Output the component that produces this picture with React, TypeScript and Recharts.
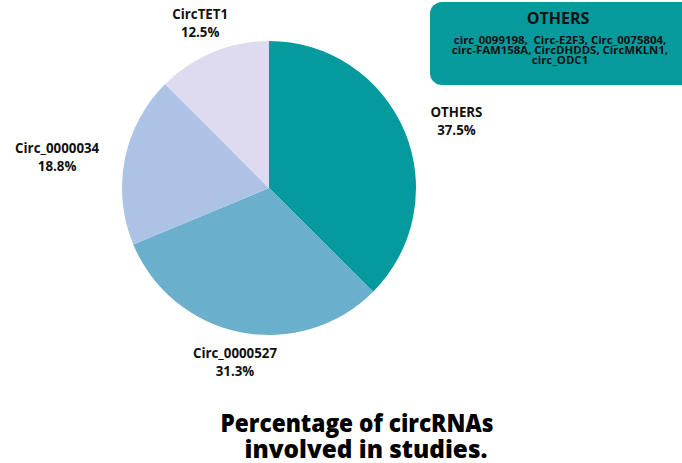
import { PieChart, Pie, Cell } from 'recharts';

const names = ['OTHERS', 'Circ_0000527', 'Circ_0000034', 'CircTET1'];
const values = [37.5, 31.3, 18.8, 12.5];
const COLORS = ['#059a9d', '#6aafcb', '#adc3e5', '#dedbf0'];
const othersList = [
  'circ_0099198,  Circ-E2F3, Circ_0075804,',
  'circ-FAM158A, CircDHDDS, CircMKLN1,',
  'circ_ODC1',
];
// distance of each label from the centre, plus a small vertical nudge
const LABEL_DIST = [203, 176, 216, 180];
const LABEL_NUDGE = [10, 0, 10, 0];

const data = names.map((name, i) => ({ name, value: values[i] }));
const FONT = '"Open Sans", sans-serif';
const RAD = Math.PI / 180;

const renderLabel = (props: any) => {
  const { cx, cy, midAngle, index, name, value } = props;
  const d = LABEL_DIST[index];
  const x = cx + d * Math.cos(-midAngle * RAD);
  const y = cy + d * Math.sin(-midAngle * RAD) + LABEL_NUDGE[index];
  return (
    <text
      x={x}
      y={y}
      textAnchor="middle"
      fontFamily={FONT}
      fontWeight={700}
      fontSize={13.3}
      fill="#111"
    >
      <tspan x={x} dy={-3}>{name}</tspan>
      <tspan x={x} dy={18}>{value.toFixed(1)}%</tspan>
    </text>
  );
};

export default function App() {
  return (
    <div style={{ position: 'absolute', left: 0, top: 0, width: 682, height: 463, background: '#fff' }}>
      <PieChart width={682} height={463} margin={{ top: 0, right: 0, bottom: 0, left: 0 }}>
        <Pie
          data={data}
          dataKey="value"
          nameKey="name"
          cx={269}
          cy={188}
          outerRadius={147}
          startAngle={90}
          endAngle={-270}
          stroke="none"
          label={renderLabel}
          labelLine={false}
          isAnimationActive={false}
        >
          {data.map((d, i) => (
            <Cell key={d.name} fill={COLORS[i]} />
          ))}
        </Pie>
        <rect x={430} y={2} width={270} height={83} rx={12} ry={12} fill="#079a9c" />
        <text x={558} y={24} textAnchor="middle" fontFamily={FONT} fontWeight={700} fontSize={16} fill="#111">
          OTHERS
        </text>
        {othersList.map((line, i) => (
          <text
            key={i}
            x={560}
            y={44 + i * 10}
            textAnchor="middle"
            fontFamily={FONT}
            fontWeight={700}
            fontSize={11.4}
            fill="#111"
            style={{ whiteSpace: 'pre' }}
          >
            {line}
          </text>
        ))}
        <text
          x={357}
          y={432}
          textAnchor="middle"
          fontFamily={FONT}
          fontWeight={800}
          fontSize={24}
          textLength={273}
          lengthAdjust="spacingAndGlyphs"
          fill="#000"
        >
          Percentage of circRNAs
        </text>
        <text
          x={366}
          y={458}
          textAnchor="middle"
          fontFamily={FONT}
          fontWeight={800}
          fontSize={24}
          textLength={243}
          lengthAdjust="spacingAndGlyphs"
          fill="#000"
        >
          involved in studies.
        </text>
      </PieChart>
    </div>
  );
}
